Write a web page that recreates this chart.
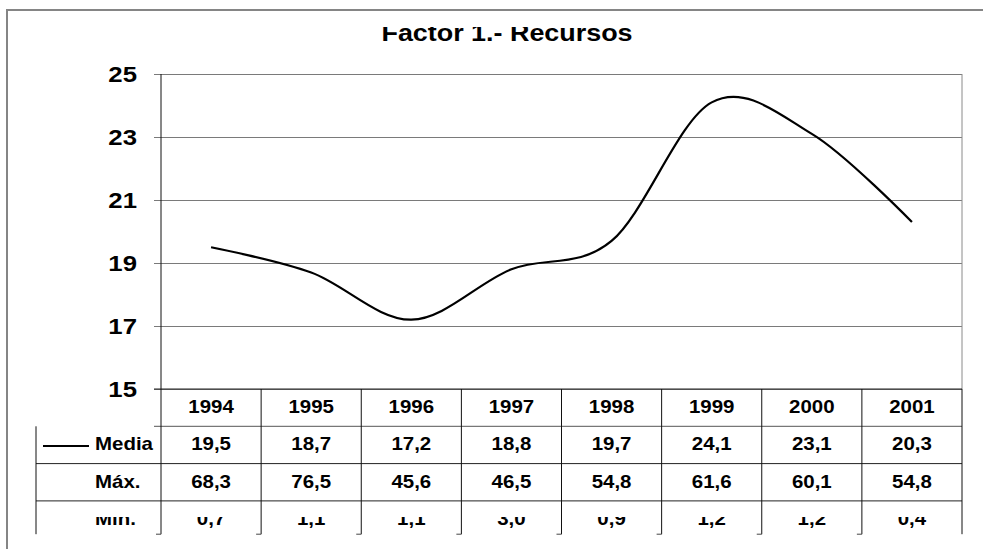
<!DOCTYPE html>
<html>
<head>
<meta charset="utf-8">
<script src="https://cdn.jsdelivr.net/npm/d3@7"></script>
<style>
  body { margin: 0; background: #fff; }
  text { font-family: "Liberation Sans", Arial, sans-serif; font-weight: bold; fill: #000; }
</style>
</head>
<body>
<div id="chart"></div>
<script>
// Factor 1 - Recursos, media / max / min per year
const years = ["1994", "1995", "1996", "1997", "1998", "1999", "2000", "2001"]
const media = [19.5, 18.7, 17.2, 18.8, 19.7, 24.1, 23.1, 20.3]
const maximo = [68.3, 76.5, 45.6, 46.5, 54.8, 61.6, 60.1, 54.8]
const minimo = [0.7, 1.1, 1.1, 3.0, 0.9, 1.2, 1.2, 0.4]
const yTicks = [15, 17, 19, 21, 23, 25]
const rowLabels = ["Media", "Máx.", "Mín."]

const width = 983
const height = 549
const margin = { top: 74, left: 161, right: 21, bottom: 160 }
const stretch = 1.17 // the original text is a bit wider than Arial

const svg = d3
  .select("#chart")
  .append("svg")
  .attr("width", width)
  .attr("height", height)

svg.append("rect").attr("width", width).attr("height", height).attr("fill", "#fff")

// outer frame (only top and left show)
svg
  .append("path")
  .attr("d", `M7,${height} V10 H${width}`)
  .attr("fill", "none")
  .attr("stroke", "#858585")
  .attr("stroke-width", 2)

const x = d3
  .scaleBand()
  .domain(years)
  .range([margin.left, width - margin.right])

const y = d3
  .scaleLinear()
  .domain([15, 25])
  .range([height - margin.bottom, margin.top])

const fmt = (v) => d3.format(".1f")(v).replace(".", ",")

// title, top of the letters is cut off in the original
svg
  .append("clipPath")
  .attr("id", "titleClip")
  .append("rect")
  .attr("x", 0)
  .attr("y", 27)
  .attr("width", width)
  .attr("height", 30)

svg
  .append("g")
  .attr("clip-path", "url(#titleClip)")
  .append("text")
  .attr("transform", `translate(507,41) scale(${stretch},1)`)
  .attr("text-anchor", "middle")
  .attr("font-size", "23px")
  .text("Factor 1.- Recursos")

// y axis with grid lines
function yAxis(g) {
  g.call(
    d3
      .axisLeft(y)
      .tickValues(yTicks)
      .tickSizeInner(-(x.range()[1] - x.range()[0] + 7))
      .tickSizeOuter(0)
      .tickPadding(17),
  )
  g.select(".domain").remove()
  g.selectAll(".tick line").attr("stroke", "#7a7a7a")
  g.selectAll(".tick text")
    .attr("x", null)
    .attr("dy", "0.36em")
    .attr("transform", `translate(-17,0) scale(${stretch},1)`)
    .attr("font-size", "22px")
    .attr("font-family", "Liberation Sans, Arial, sans-serif")
    .attr("font-weight", "bold")
    .attr("fill", "#000")
}
svg
  .append("g")
  .attr("transform", `translate(${margin.left - 7},0)`)
  .call(yAxis)

// plot right border
svg
  .append("line")
  .attr("x1", x.range()[1])
  .attr("x2", x.range()[1])
  .attr("y1", y(25))
  .attr("y2", y(15))
  .attr("stroke", "#8a8a8a")

// data table under the plot
const rowH = 37.3
const tableTop = y(15)
const rowY = (i) => tableTop + rowH * i // top of row i (0 = header)
const tableBottom = rowY(4) - 4
const tableLeft = 36

const table = svg.append("g")

// horizontal rules
table
  .append("line")
  .attr("x1", margin.left - 7)
  .attr("x2", x.range()[1])
  .attr("y1", tableTop)
  .attr("y2", tableTop)
  .attr("stroke", "#222")
table
  .append("line")
  .attr("x1", margin.left - 7)
  .attr("x2", x.range()[1])
  .attr("y1", rowY(1))
  .attr("y2", rowY(1))
  .attr("stroke", "#555")
table
  .selectAll(".hrule")
  .data([2, 3])
  .join("line")
  .attr("x1", tableLeft)
  .attr("x2", x.range()[1])
  .attr("y1", (d) => rowY(d))
  .attr("y2", (d) => rowY(d))
  .attr("stroke", "#222")

// vertical rules
const borders = years.map((d) => x(d)).concat([x.range()[1]])
table
  .selectAll(".vrule")
  .data(borders)
  .join("line")
  .attr("x1", (d) => d)
  .attr("x2", (d) => d)
  .attr("y1", (d, i) => (i === 0 ? y(25) : tableTop))
  .attr("y2", tableBottom)
  .attr("stroke", "#111")
// little bottom stubs
table
  .selectAll(".stub")
  .data(borders.slice(0, -1))
  .join("line")
  .attr("x1", (d) => d - 5)
  .attr("x2", (d) => d)
  .attr("y1", tableBottom)
  .attr("y2", tableBottom)
  .attr("stroke", "#444")
table
  .append("line")
  .attr("x1", tableLeft)
  .attr("x2", tableLeft)
  .attr("y1", rowY(1))
  .attr("y2", tableBottom)
  .attr("stroke", "#111")

const cellText = (sel, cx, cy, txt) =>
  sel
    .append("text")
    .attr("transform", `translate(${cx},${cy + 6.5}) scale(${stretch},1)`)
    .attr("text-anchor", "middle")
    .attr("font-size", "17.5px")
    .text(txt)

// header years
years.forEach((yr) => {
  cellText(table, x(yr) + x.bandwidth() / 2, rowY(0) + rowH / 2 - 1, yr)
})

// the Mín row is only half visible in the original
svg
  .append("clipPath")
  .attr("id", "minClip")
  .append("rect")
  .attr("x", 0)
  .attr("y", rowY(3) + 16)
  .attr("width", width)
  .attr("height", 20)

const rows = [media, maximo, minimo]
rows.forEach((vals, r) => {
  const cy = rowY(r + 1) + rowH / 2 - 1
  const g = table.append("g")
  if (r === 2) g.attr("clip-path", "url(#minClip)")
  g.append("text")
    .attr("transform", `translate(95,${cy + 6.5}) scale(${stretch},1)`)
    .attr("font-size", "17.5px")
    .text(rowLabels[r])
  vals.forEach((v, i) => {
    cellText(g, x(years[i]) + x.bandwidth() / 2, cy, fmt(v))
  })
})

// legend key for the media line
table
  .append("line")
  .attr("x1", 43)
  .attr("x2", 89)
  .attr("y1", rowY(1) + rowH / 2 + 1)
  .attr("y2", rowY(1) + rowH / 2 + 1)
  .attr("stroke", "#000")
  .attr("stroke-width", 2)

// smoothed line for Media
const line = d3
  .line()
  .x((d, i) => x(years[i]) + x.bandwidth() / 2)
  .y((d) => y(d))
  .curve(d3.curveCardinal.tension(0))

svg
  .append("path")
  .datum(media)
  .attr("d", line)
  .attr("fill", "none")
  .attr("stroke", "#000")
  .attr("stroke-width", 2.2)
</script>
</body>
</html>
